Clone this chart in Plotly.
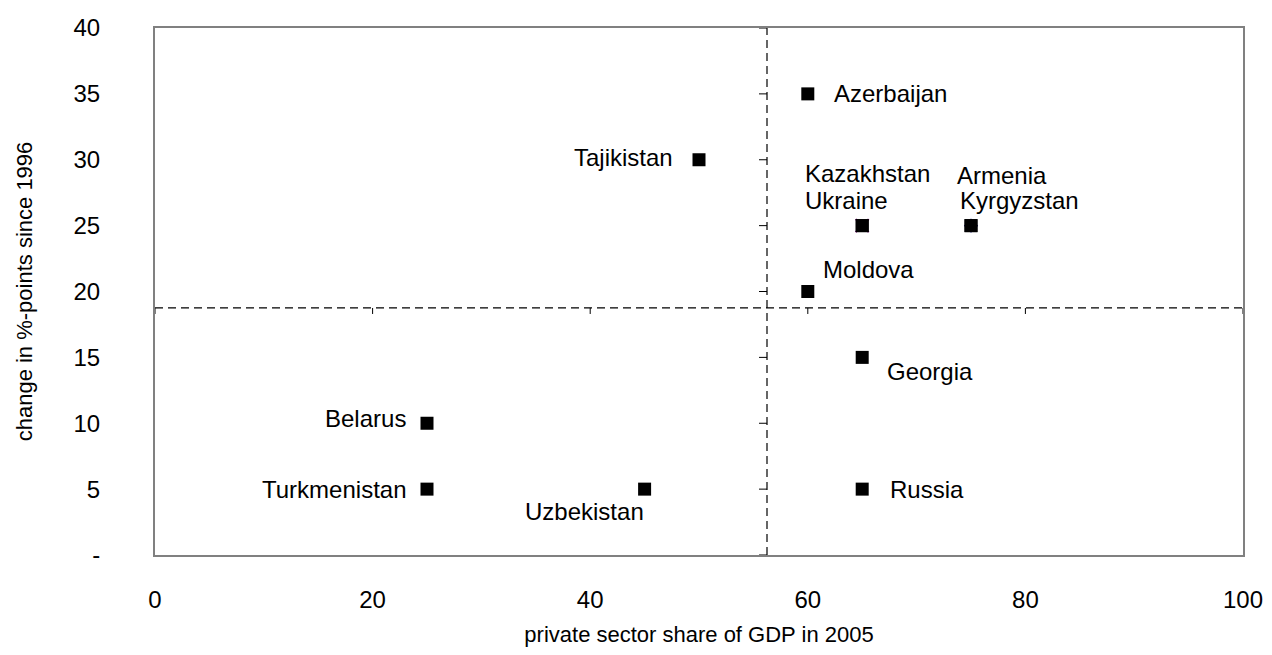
import plotly.graph_objects as go

countries = ["Azerbaijan", "Tajikistan", "Kazakhstan", "Ukraine", "Armenia", "Kyrgyzstan",
             "Moldova", "Georgia", "Belarus", "Turkmenistan", "Uzbekistan", "Russia"]
private_share_2005 = [60, 50, 65, 65, 75, 75, 60, 65, 25, 25, 45, 65]
change_since_1996 = [35, 30, 25, 25, 25, 25, 20, 15, 10, 5, 5, 5]

x_ticks = [0, 20, 40, 60, 80, 100]
y_ticks = [0, 5, 10, 15, 20, 25, 30, 35, 40]
y_ticktext = ["-", "5", "10", "15", "20", "25", "30", "35", "40"]

# label placement (anchor, pixel shifts) per country
label_pos = {
    "Azerbaijan": ("left", 24, 0),
    "Tajikistan": ("right", -24, 2),
    "Kazakhstan": ("left", -59, 52),
    "Ukraine": ("left", -59, 25),
    "Armenia": ("left", -16, 50),
    "Kyrgyzstan": ("left", -13, 25),
    "Moldova": ("left", 13, 22),
    "Georgia": ("left", 23, -14),
    "Belarus": ("right", -19, 5),
    "Turkmenistan": ("right", -18, 0),
    "Uzbekistan": ("right", 1, -22),
    "Russia": ("left", 26, 0),
}

x_mean = sum(private_share_2005) / len(private_share_2005)
y_mean = sum(change_since_1996) / len(change_since_1996)

FONT = "Liberation Sans, Arial, sans-serif"
LBL = 24

fig = go.Figure()
# underlying series markers partially visible behind the squares
i_ukr = countries.index("Ukraine")
i_kyr = countries.index("Kyrgyzstan")
fig.add_trace(go.Scatter(
    x=[private_share_2005[i_ukr]], y=[change_since_1996[i_ukr]], mode="markers",
    marker=dict(symbol="x-thin", size=13, line=dict(color="#800080", width=2)),
    hoverinfo="skip", showlegend=False,
))
fig.add_trace(go.Scatter(
    x=[private_share_2005[i_kyr]], y=[change_since_1996[i_kyr]], mode="markers",
    marker=dict(symbol="diamond", size=11, color="#000080"),
    hoverinfo="skip", showlegend=False,
))
fig.add_trace(go.Scatter(
    x=private_share_2005, y=change_since_1996, mode="markers",
    marker=dict(symbol="square", size=13, color="black"),
    hoverinfo="text", text=countries, showlegend=False,
))

annotations = []
for c, xv, yv in zip(countries, private_share_2005, change_since_1996):
    anchor, dx, dy = label_pos[c]
    annotations.append(dict(
        x=xv, y=yv, xref="x", yref="y", text=c, showarrow=False,
        xanchor=anchor, yanchor="middle", xshift=dx, yshift=dy,
        font=dict(family=FONT, size=LBL, color="black"),
    ))

shapes = []
dash = "8px,5px"
shapes.append(dict(type="line", xref="x", yref="y", x0=x_mean, x1=x_mean, y0=0, y1=40,
                   line=dict(color="black", width=1.2, dash=dash)))
shapes.append(dict(type="line", xref="x", yref="y", x0=0, x1=100, y0=y_mean, y1=y_mean,
                   line=dict(color="black", width=1.2, dash=dash)))
for v in y_ticks:
    shapes.append(dict(type="line", xref="x", yref="y", xsizemode="pixel", xanchor=x_mean,
                       x0=-8, x1=0, y0=v, y1=v, line=dict(color="black", width=1)))
for v in x_ticks:
    shapes.append(dict(type="line", xref="x", yref="y", ysizemode="pixel", yanchor=y_mean,
                       y0=-6, y1=0, x0=v, x1=v, line=dict(color="black", width=1)))

fig.update_layout(
    template="none",
    width=1256, height=639,
    margin=dict(l=147, r=21, t=20, b=92, autoexpand=False),
    paper_bgcolor="white", plot_bgcolor="white",
    annotations=annotations, shapes=shapes,
    font=dict(family=FONT, size=LBL, color="black"),
    xaxis=dict(range=[0, 100], tickvals=x_ticks, showgrid=False, zeroline=False,
               showline=True, linecolor="#808080", linewidth=2, mirror=True,
               ticks="", ticklabelstandoff=22, automargin=False,
               tickfont=dict(family=FONT, size=LBL, color="black"),
               title=dict(text="private sector share of GDP in 2005", standoff=37,
                          font=dict(family=FONT, size=22, color="black"))),
    yaxis=dict(range=[0, 40], tickvals=y_ticks, ticktext=y_ticktext, showgrid=False,
               zeroline=False, showline=True, linecolor="#808080", linewidth=2, mirror=True,
               ticks="", ticklabelstandoff=48, automargin=False,
               tickfont=dict(family=FONT, size=LBL, color="black"),
               title=dict(text="change in %-points since 1996", standoff=35,
                          font=dict(family=FONT, size=22, color="black"))),
)

fig.write_html("out.html")
